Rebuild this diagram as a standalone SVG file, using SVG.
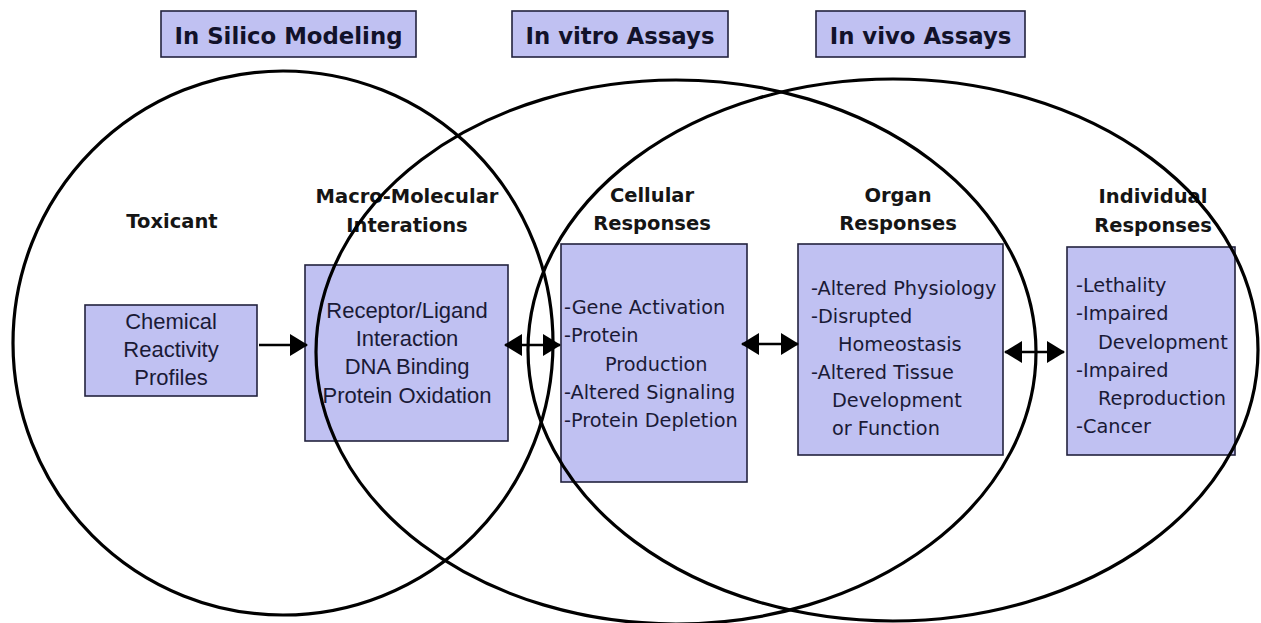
<svg xmlns="http://www.w3.org/2000/svg" width="1261" height="623" viewBox="0 0 1261 623">
<style>
.bx{fill:#c0c1f2;stroke:#22223e;stroke-width:1.6}
.ttl{font-family:"DejaVu Sans",Verdana,sans-serif;font-weight:bold;font-size:22.8px;fill:#12122a;text-anchor:middle}
.hd{font-family:"DejaVu Sans",Verdana,sans-serif;font-weight:bold;font-size:19.5px;fill:#151515;text-anchor:middle}
.ar{font-family:"Liberation Sans",Arial,sans-serif;font-size:22px;fill:#1a1a36;text-anchor:middle}
.tx{font-family:"DejaVu Sans",Verdana,sans-serif;font-size:19.3px;fill:#1a1a36}
.el{fill:none;stroke:#000;stroke-width:3.2}
.cn{stroke:#000;stroke-width:2.5;fill:none}
</style>
<defs>
<marker id="ah" markerUnits="userSpaceOnUse" markerWidth="18" markerHeight="22" viewBox="0 0 18 22" refX="17" refY="11" orient="auto-start-reverse">
<path d="M0,0 L18,11 L0,22 Z" fill="#000"/>
</marker>
</defs>
<rect width="1261" height="623" fill="#fff"/>

<g id="title-silico"><rect class="bx" x="161" y="11" width="255" height="46"/><text class="ttl" x="288.5" y="44">In Silico Modeling</text></g>
<g id="title-vitro"><rect class="bx" x="512" y="11" width="216" height="46"/><text class="ttl" x="620" y="44">In vitro Assays</text></g>
<g id="title-vivo"><rect class="bx" x="816" y="11" width="209" height="46"/><text class="ttl" x="920.5" y="44">In vivo Assays</text></g>

<g id="toxicant">
<text class="hd" x="172" y="228">Toxicant</text>
<rect class="bx" x="85" y="305" width="172" height="91"/>
<text class="ar" x="171" y="329">Chemical</text>
<text class="ar" x="171" y="357">Reactivity</text>
<text class="ar" x="171" y="385">Profiles</text>
</g>

<g id="macro">
<text class="hd" x="407" y="203">Macro-Molecular</text>
<text class="hd" x="407" y="232">Interations</text>
<rect class="bx" x="305" y="265" width="203" height="176"/>
<text class="ar" x="407" y="318">Receptor/Ligand</text>
<text class="ar" x="407" y="346">Interaction</text>
<text class="ar" x="407" y="374">DNA Binding</text>
<text class="ar" x="407" y="403">Protein Oxidation</text>
</g>

<g id="cellular">
<text class="hd" x="652" y="202">Cellular</text>
<text class="hd" x="652" y="230">Responses</text>
<rect class="bx" x="561" y="244" width="186" height="238"/>
<text class="tx" x="564" y="314">-Gene Activation</text>
<text class="tx" x="564" y="342">-Protein</text>
<text class="tx" x="605" y="371">Production</text>
<text class="tx" x="564" y="399">-Altered Signaling</text>
<text class="tx" x="564" y="427">-Protein Depletion</text>
</g>

<g id="organ">
<text class="hd" x="898" y="202">Organ</text>
<text class="hd" x="898" y="230">Responses</text>
<rect class="bx" x="798" y="244" width="205" height="211"/>
<text class="tx" x="811" y="295">-Altered Physiology</text>
<text class="tx" x="811" y="323">-Disrupted</text>
<text class="tx" x="838" y="351">Homeostasis</text>
<text class="tx" x="811" y="379">-Altered Tissue</text>
<text class="tx" x="832" y="407">Development</text>
<text class="tx" x="832" y="435">or Function</text>
</g>

<g id="individual">
<text class="hd" x="1153" y="203">Individual</text>
<text class="hd" x="1153" y="232">Responses</text>
<rect class="bx" x="1067" y="247" width="168" height="208"/>
<text class="tx" x="1076" y="292">-Lethality</text>
<text class="tx" x="1076" y="320">-Impaired</text>
<text class="tx" x="1098" y="349">Development</text>
<text class="tx" x="1076" y="377">-Impaired</text>
<text class="tx" x="1098" y="405">Reproduction</text>
<text class="tx" x="1076" y="433">-Cancer</text>
</g>

<g id="domains">
<ellipse class="el" cx="283" cy="343" rx="270" ry="272"/>
<ellipse class="el" cx="676" cy="352" rx="360" ry="272"/>
<ellipse class="el" cx="893" cy="350" rx="365" ry="271"/>
</g>

<g id="connectors">
<line class="cn" x1="259" y1="345" x2="307" y2="345" marker-end="url(#ah)"/>
<line class="cn" x1="505" y1="345" x2="560" y2="345" marker-start="url(#ah)" marker-end="url(#ah)"/>
<line class="cn" x1="742" y1="344" x2="798" y2="344" marker-start="url(#ah)" marker-end="url(#ah)"/>
<line class="cn" x1="1005" y1="352" x2="1064" y2="352" marker-start="url(#ah)" marker-end="url(#ah)"/>
</g>
</svg>
